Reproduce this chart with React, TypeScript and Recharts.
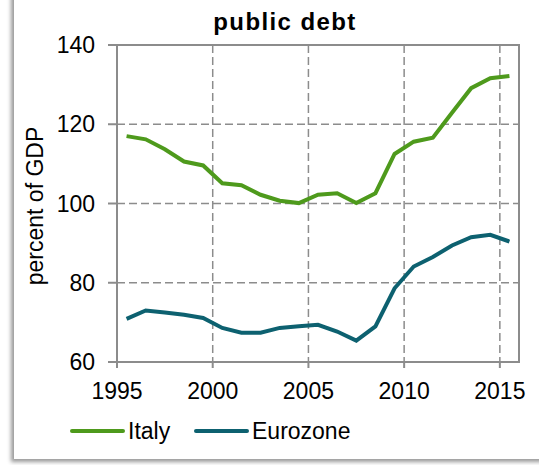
import React from "react"
import {
  LineChart,
  Line,
  XAxis,
  YAxis,
  CartesianGrid,
  ReferenceArea,
} from "recharts"

const years = [
  1995, 1996, 1997, 1998, 1999, 2000, 2001, 2002, 2003, 2004, 2005,
  2006, 2007, 2008, 2009, 2010, 2011, 2012, 2013, 2014, 2015,
]
const italy = [
  117.0, 116.2, 113.7, 110.6, 109.6, 105.1, 104.6, 102.2, 100.7, 100.1, 102.2,
  102.6, 100.1, 102.6, 112.5, 115.6, 116.6, 122.9, 129.1, 131.6, 132.2,
]
const eurozone = [
  70.9, 73.0, 72.5, 71.9, 71.1, 68.6, 67.4, 67.4, 68.6, 69.0, 69.4,
  67.7, 65.4, 69.0, 78.6, 84.1, 86.5, 89.4, 91.5, 92.1, 90.4,
]
const xTicks = [1995, 2000, 2005, 2010, 2015]
const yTicks = [60, 80, 100, 120, 140]

const series = [
  { key: "italy", name: "Italy", color: "#4e9a1c" },
  { key: "eurozone", name: "Eurozone", color: "#0d6170" },
]

// values are annual figures, plotted mid-year
const data = years.map((y, i) => ({
  x: y + 0.5,
  italy: italy[i],
  eurozone: eurozone[i],
}))

const font = "'Liberation Sans', Arial, sans-serif"
const axisGrey = "#8c8c8c"
const fs = 23

export default function App() {
  return (
    <div style={{ position: "absolute", left: 0, top: 0, width: 539, height: 465, background: "#fff", overflow: "hidden", fontFamily: font }}>
      <div
        style={{
          position: "absolute",
          left: 14,
          top: -10,
          width: 560,
          height: 469,
          background: "#fff",
          boxShadow: "-3px 3px 4px rgba(0,0,0,0.4)",
        }}
      />
      <div style={{ position: "absolute", left: 0, top: 0 }}>
        <LineChart width={539} height={465} data={data} margin={{ top: 45, right: 20, bottom: 63, left: 0 }}>
          <CartesianGrid stroke={axisGrey} strokeWidth={1.5} strokeDasharray="8 4" verticalValues={xTicks} horizontalValues={yTicks} />
          <XAxis
            dataKey="x"
            type="number"
            domain={[1995, 2016]}
            ticks={xTicks}
            allowDataOverflow
            height={40}
            tickSize={6}
            tickMargin={15}
            stroke={axisGrey}
            strokeWidth={2}
            tick={{ fill: "#000", fontSize: fs, fontFamily: font }}
          />
          <YAxis
            type="number"
            domain={[60, 140]}
            ticks={yTicks}
            width={117}
            tickSize={9}
            tickMargin={13}
            stroke={axisGrey}
            strokeWidth={2}
            tick={{ fill: "#000", fontSize: fs, fontFamily: font }}
          />
          <ReferenceArea x1={1995} x2={2016} y1={60} y2={140} fill="none" stroke={axisGrey} strokeWidth={2} />
          {series.map((s) => (
            <Line
              key={s.key}
              dataKey={s.key}
              name={s.name}
              stroke={s.color}
              strokeWidth={4}
              dot={false}
              type="linear"
              isAnimationActive={false}
            />
          ))}
        </LineChart>
      </div>
      <svg width={539} height={465} style={{ position: "absolute", left: 0, top: 0, pointerEvents: "none" }}>
        <text x={285} y={30} textAnchor="middle" fontSize={24} fontWeight="bold" letterSpacing={1.4} fontFamily={font}>
          public debt
        </text>
        <text x={43} y={206} transform="rotate(-90 43 206)" textAnchor="middle" fontSize={fs} fontFamily={font}>
          percent of GDP
        </text>
        {series.map((s, i) => {
          const x0 = i === 0 ? 72 : 196
          return (
            <g key={s.key}>
              <line x1={x0} x2={x0 + 51} y1={431} y2={431} stroke={s.color} strokeWidth={4} strokeLinecap="round" />
              <text x={x0 + 56} y={439} fontSize={fs} fontFamily={font}>
                {s.name}
              </text>
            </g>
          )
        })}
      </svg>
    </div>
  )
}
